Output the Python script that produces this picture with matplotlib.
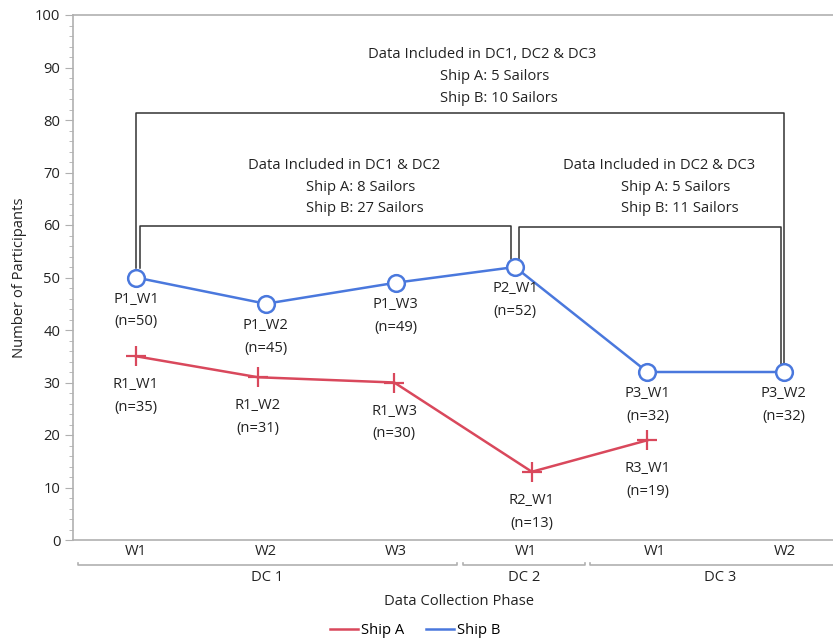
import matplotlib
matplotlib.use("Agg")
from matplotlib import pyplot as plt
from matplotlib.lines import Line2D
from matplotlib.ticker import MultipleLocator

plt.rcParams["font.family"] = ["Open Sans", "DejaVu Sans"]
FS = 10.6

# categories along the x axis
waveLabels = ["W1", "W2", "W3", "W1", "W1", "W2"]
phaseLabels = ["DC 1", "DC 2", "DC 3"]
phaseSpans = [(-0.45, 2.47), (2.52, 3.46), (3.5, 5.5)]

# Ship B series
shipBx = [0, 1, 2, 2.92, 3.94, 4.99]
shipBy = [50, 45, 49, 52, 32, 32]
shipBnames = ["P1_W1", "P1_W2", "P1_W3", "P2_W1", "P3_W1", "P3_W2"]

# Ship A series
shipAx = [0.0, 0.94, 1.99, 3.05, 3.94]
shipAy = [35, 31, 30, 13, 19]
shipAnames = ["R1_W1", "R1_W2", "R1_W3", "R2_W1", "R3_W1"]

redColor = "#d9485c"
blueColor = "#4a78dd"
textColor = "#222222"
axisGray = "#b0b0b0"

fig = plt.figure(figsize=(8.33, 6.41), dpi=100)
ax = fig.add_axes([73 / 833, 101 / 641, 760 / 833, 525 / 641])

ax.plot(shipAx, shipAy, color=redColor, lw=1.8, marker="+", ms=14, mew=1.6, zorder=3)
ax.plot(shipBx, shipBy, color=blueColor, lw=1.8, marker="o", ms=12,
        mfc="white", mec=blueColor, mew=1.8, zorder=3)

# point labels
for x, y, name in zip(shipBx, shipBy, shipBnames):
    ax.annotate("%s\n(n=%d)" % (name, y), (x, y), xytext=(0, -33), textcoords="offset pixels",
                ha="center", va="center", fontsize=FS, color=textColor, linespacing=1.7)
for x, y, name in zip(shipAx, shipAy, shipAnames):
    ax.annotate("%s\n(n=%d)" % (name, y), (x, y), xytext=(0, -40), textcoords="offset pixels",
                ha="center", va="center", fontsize=FS, color=textColor, linespacing=1.7)

# brackets showing which data carried over
bracketColor = "#333333"
ax.plot([0, 0, 4.99, 4.99], [51.8, 81.3, 81.3, 33.6], color=bracketColor, lw=1.1, zorder=2)
ax.plot([0.03, 0.03, 2.89, 2.89], [51.8, 59.8, 59.8, 53.6], color=bracketColor, lw=1.1, zorder=2)
ax.plot([2.95, 2.95, 4.97, 4.97], [53.6, 59.6, 59.6, 33.6], color=bracketColor, lw=1.1, zorder=2)

ax.text(2.67, 92.4, "Data Included in DC1, DC2 & DC3", ha="center", va="center", fontsize=FS, color=textColor)
ax.text(2.34, 88.3, "Ship A: 5 Sailors", ha="left", va="center", fontsize=FS, color=textColor)
ax.text(2.34, 84.1, "Ship B: 10 Sailors", ha="left", va="center", fontsize=FS, color=textColor)

ax.text(1.60, 71.4, "Data Included in DC1 & DC2", ha="center", va="center", fontsize=FS, color=textColor)
ax.text(1.31, 67.2, "Ship A: 8 Sailors", ha="left", va="center", fontsize=FS, color=textColor)
ax.text(1.31, 63.1, "Ship B: 27 Sailors", ha="left", va="center", fontsize=FS, color=textColor)

ax.text(4.03, 71.4, "Data Included in DC2 & DC3", ha="center", va="center", fontsize=FS, color=textColor)
ax.text(3.74, 67.2, "Ship A: 5 Sailors", ha="left", va="center", fontsize=FS, color=textColor)
ax.text(3.74, 63.1, "Ship B: 11 Sailors", ha="left", va="center", fontsize=FS, color=textColor)

# axes styling
ax.set_xlim(-0.485, 5.37)
ax.set_ylim(0, 100)
ax.yaxis.set_major_locator(MultipleLocator(10))
ax.yaxis.set_minor_locator(MultipleLocator(2))
ax.set_xticks(range(len(waveLabels)))
ax.set_xticklabels(waveLabels)
ax.tick_params(axis="x", length=0, pad=3, labelsize=FS, labelcolor=textColor)
ax.tick_params(axis="y", which="major", length=6, color=axisGray, labelsize=FS, labelcolor=textColor, pad=3)
ax.tick_params(axis="y", which="minor", length=3, color=axisGray)
for side in ["left", "bottom", "top"]:
    ax.spines[side].set_color(axisGray)
    ax.spines[side].set_linewidth(1.2)
ax.spines["right"].set_visible(False)
ax.set_ylabel("Number of Participants", fontsize=FS, color=textColor, labelpad=6)

# phase group brackets under the wave labels
trans = ax.get_xaxis_transform()
for (x0, x1), label in zip(phaseSpans, phaseLabels):
    ax.add_line(Line2D([x0, x0, x1, x1], [-0.043, -0.048, -0.048, -0.043], transform=trans,
                       color=axisGray, lw=1.2, clip_on=False))
    ax.text((x0 + x1) / 2, -0.072, label, transform=trans, ha="center", va="center",
            fontsize=FS, color=textColor)
ax.text(2.49, -0.118, "Data Collection Phase", transform=trans, ha="center", va="center",
        fontsize=FS, color=textColor)

handles = [Line2D([], [], color=redColor, lw=1.8), Line2D([], [], color=blueColor, lw=1.8)]
fig.legend(handles, ["Ship A", "Ship B"], loc="center", bbox_to_anchor=(415 / 833, 10 / 641),
           ncol=2, frameon=False, fontsize=FS, handlelength=1.9, handletextpad=0.2, columnspacing=1.5)

plt.savefig("out.png", dpi=100)
